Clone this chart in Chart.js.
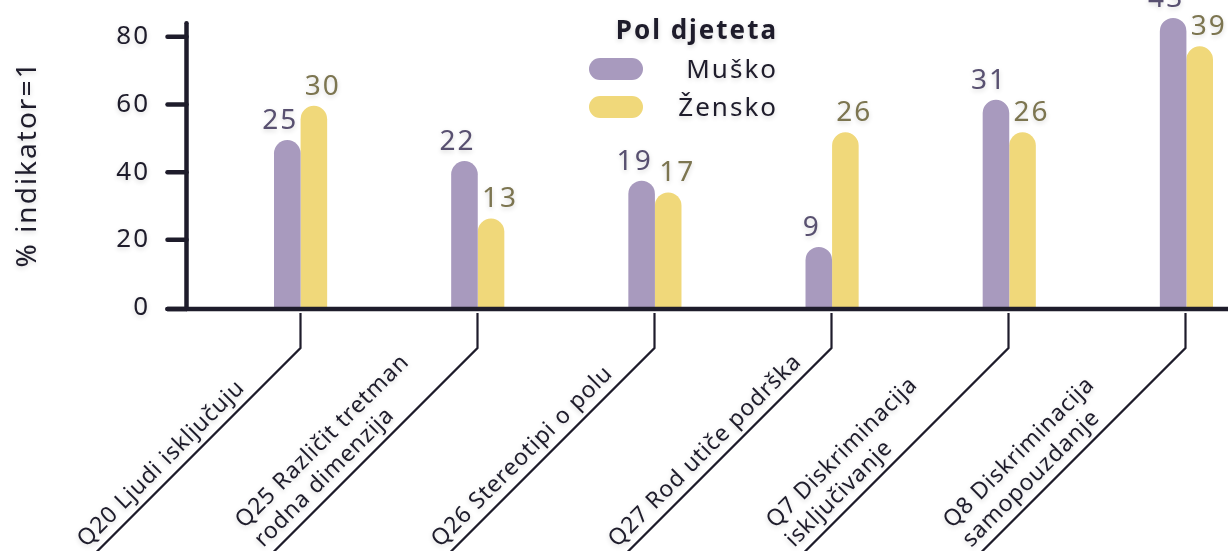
<!DOCTYPE html>
<html>
<head>
<meta charset="utf-8">
<script src="https://cdn.jsdelivr.net/npm/chart.js@4"></script>
<style>
  html, body { margin: 0; padding: 0; background: #ffffff; }
  #wrap { position: relative; width: 1228px; height: 551px; overflow: hidden; }
  #inner { position: absolute; left: 0; top: 0; width: 1300px; height: 551px; }
</style>
</head>
<body>
<div id="wrap"><div id="inner"><canvas id="chart"></canvas></div></div>
<script>
// chart data
const categories = [
    ['Q20 Ljudi isključuju'],
    ['Q25 Različit tretman', 'rodna dimenzija'],
    ['Q26 Stereotipi o polu'],
    ['Q27 Rod utiče podrška'],
    ['Q7 Diskriminacija', 'isključivanje'],
    ['Q8 Diskriminacija', 'samopouzdanje']
];
const seriesNames = ['Muško', 'Žensko'];
const muskoPct = [49.5, 43.3, 37.5, 17.9, 61.4, 85.6];
const zenskoPct = [59.6, 26.3, 34.0, 51.8, 51.8, 77.2];
const muskoN = [25, 22, 19, 9, 31, 43];
const zenskoN = [30, 13, 17, 26, 26, 39];
const yTicks = [0, 20, 40, 60, 80];
const legendTitle = 'Pol djeteta';
const yTitle = '% indikator=1';

const FONT = '"Noto Sans", "DejaVu Sans", sans-serif';
const INK = '#1e1c2b';
const barColors = ['#a89abe', '#f0d87a'];
const countColors = ['#585070', '#7c7550'];

function textShadow(ctx) {
    ctx.shadowColor = 'rgba(0, 0, 0, 0.16)';
    ctx.shadowBlur = 5;
    ctx.shadowOffsetX = 0;
    ctx.shadowOffsetY = 2;
}

const decorPlugin = {
    id: 'decor',
    beforeDraw(chart) {
        chart.ctx.save();
        textShadow(chart.ctx);
        chart.ctx.letterSpacing = '2px';
    },
    beforeDatasetsDraw(chart) {
        chart.ctx.restore();
    },
    afterDraw(chart) {
        const ctx = chart.ctx;
        const area = chart.chartArea;
        const x = chart.scales.x;
        const y = chart.scales.y;
        const axisX = area.left - 25.5;
        const zeroY = y.getPixelForValue(0) + 1.5;

        ctx.save();
        ctx.strokeStyle = INK;
        ctx.lineCap = 'round';

        // y axis + ticks
        ctx.lineWidth = 4.5;
        ctx.beginPath();
        ctx.moveTo(axisX, y.getPixelForValue(84));
        ctx.lineTo(axisX, zeroY);
        ctx.stroke();
        yTicks.forEach(v => {
            const py = v === 0 ? zeroY : y.getPixelForValue(v);
            ctx.beginPath();
            ctx.moveTo(axisX - 19, py);
            ctx.lineTo(axisX, py);
            ctx.stroke();
        });
        // x axis
        ctx.beginPath();
        ctx.moveTo(axisX - 19, zeroY);
        ctx.lineTo(chart.width + 10, zeroY);
        ctx.stroke();

        // leader lines and rotated category labels
        ctx.lineWidth = 2.2;
        ctx.lineCap = 'butt';
        ctx.lineJoin = 'miter';
        const d = Math.SQRT1_2;
        categories.forEach((lines, i) => {
            const tx = Math.round(x.getPixelForTick(i)) - 0.5;
            const by = zeroY + 39;
            ctx.strokeStyle = INK;
            ctx.beginPath();
            ctx.moveTo(tx, zeroY + 4);
            ctx.lineTo(tx, by);
            ctx.lineTo(tx - 420 * d, by + 420 * d);
            ctx.stroke();

            ctx.save();
            ctx.translate(tx - 293 * d, by + 293 * d);
            ctx.rotate(-Math.PI / 4);
            textShadow(ctx);
            ctx.fillStyle = INK;
            ctx.font = '23px ' + FONT;
            ctx.letterSpacing = '0.8px';
            ctx.textAlign = 'left';
            ctx.textBaseline = 'alphabetic';
            const n = lines.length;
            lines.forEach((t, k) => {
                ctx.fillText(t, 0, -10 - (n - 1 - k) * 27);
            });
            ctx.restore();
        });

        // count labels above bars
        ctx.save();
        textShadow(ctx);
        ctx.font = '28px ' + FONT;
        ctx.letterSpacing = '2px';
        ctx.textAlign = 'center';
        ctx.textBaseline = 'bottom';
        const counts = [muskoN, zenskoN];
        chart.data.datasets.forEach((ds, di) => {
            const meta = chart.getDatasetMeta(di);
            ctx.fillStyle = countColors[di];
            meta.data.forEach((bar, j) => {
                const shift = di === 0 ? -7 : 9;
                ctx.fillText(String(counts[di][j]), bar.x + shift, bar.y - 5);
            });
        });
        ctx.restore();

        // legend
        ctx.save();
        textShadow(ctx);
        ctx.fillStyle = INK;
        ctx.textAlign = 'right';
        ctx.textBaseline = 'alphabetic';
        ctx.letterSpacing = '2px';
        ctx.font = 'bold 26px ' + FONT;
        ctx.fillText(legendTitle, 778, 39);
        ctx.font = '26px ' + FONT;
        chart.data.datasets.forEach((ds, di) => {
            const cy = di === 0 ? 69 : 107;
            ctx.fillStyle = INK;
            ctx.fillText(ds.label, 778, cy + 9);
            ctx.save();
            ctx.shadowColor = 'transparent';
            ctx.fillStyle = ds.backgroundColor;
            ctx.beginPath();
            ctx.roundRect(589, cy - 11, 54, 22, 11);
            ctx.fill();
            ctx.restore();
        });
        ctx.restore();

        // y title
        ctx.save();
        textShadow(ctx);
        ctx.translate(28, 164);
        ctx.rotate(-Math.PI / 2);
        ctx.fillStyle = INK;
        ctx.font = '28px ' + FONT;
        ctx.letterSpacing = '2px';
        ctx.textAlign = 'center';
        ctx.textBaseline = 'middle';
        ctx.fillText(yTitle, 0, 0);
        ctx.restore();

        ctx.restore();
    }
};

document.addEventListener('DOMContentLoaded', function() {
    const ctx = document.getElementById('chart').getContext('2d');
    new Chart(ctx, {
        type: 'bar',
        data: {
            labels: categories,
            datasets: [{
                label: seriesNames[0],
                data: muskoPct,
                backgroundColor: barColors[0],
                borderRadius: 14,
                borderSkipped: 'start'
            }, {
                label: seriesNames[1],
                data: zenskoPct,
                backgroundColor: barColors[1],
                borderRadius: 14,
                borderSkipped: 'start'
            }]
        },
        options: {
            responsive: true,
            maintainAspectRatio: false,
            animation: false,
            devicePixelRatio: 1,
            layout: { padding: { top: 3, right: 25, bottom: 243.5, left: 0 } },
            datasets: {
                bar: { categoryPercentage: 0.3, barPercentage: 1.0 }
            },
            plugins: {
                legend: { display: false },
                tooltip: { enabled: false }
            },
            scales: {
                x: {
                    display: false
                },
                y: {
                    min: 0,
                    max: 90,
                    afterFit: function(scale) {
                        // fixed axis width, and no extra top/bottom room from the big tick padding
                        scale.width = 212;
                        scale.paddingTop = 0;
                        scale.paddingBottom = 0;
                    },
                    afterBuildTicks: function(scale) {
                        scale.ticks = yTicks.map(v => ({ value: v }));
                    },
                    grid: { display: false, drawTicks: false },
                    border: { display: false },
                    ticks: {
                        padding: 62,
                        color: INK,
                        font: { family: FONT, size: 26 }
                    }
                }
            }
        },
        plugins: [decorPlugin]
    });
});
</script>
</body>
</html>
